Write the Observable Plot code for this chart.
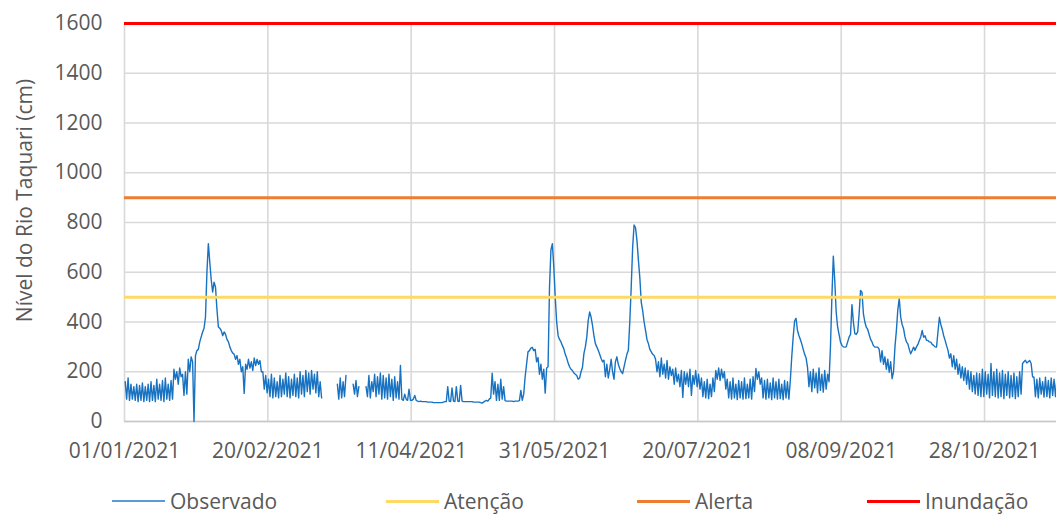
<!DOCTYPE html>
<html><head><meta charset="utf-8">
<script src="https://cdn.jsdelivr.net/npm/d3@7"></script>
<script src="https://cdn.jsdelivr.net/npm/@observablehq/plot@0.6"></script>
<style>
body{margin:0;background:#fff;font-family:"Open Sans",sans-serif;}
#wrap{position:relative;width:1056px;height:516px;overflow:hidden;}
#legend{position:absolute;left:0;top:486px;width:1056px;height:30px;font-size:21px;color:#595959;}
.item{position:absolute;top:0;height:30px;display:flex;align-items:center;white-space:nowrap;}
.sw{display:inline-block;width:53px;margin-right:5px;}
</style></head>
<body><div id="wrap"><div id="chart"></div><div id="legend"></div></div>
<script>
// Observed level (cm), two readings per day, one array per month (null = missing)
const jan = [160,90, 175,85, 150,90, 140,85, 150,80, 145,85, 155,80, 140,85, 150,80, 160,85,
  145,80, 170,90, 150,85, 165,80, 175,90, 150,85, 165,90, 210,170, 200,150, 215,180,
  190,105, 200,110, 250,200, 260,240, 0,265, 285,290, 320,340, 360,375, 420,600, 715,640,
  570,520];
const feb = [560,540, 450,380, 375,365, 345,360, 350,330, 320,300, 285,275, 270,250, 265,230, 250,200,
  220,113, 230,210, 250,215, 240,205, 255,225, 250,230, 245,200, 200,130, 185,115, 170,100,
  190,95, 175,100, 160,95, 185,100, 170,110, 195,100, 180,95, 170,105];
const mar = [190,100, 175,95, 200,110, 185,100, 205,120, 195,110, 205,130, 190,115, 200,100, 160,95,
  null,null, null,null, null,null, null,null, null,null, 150,90, 175,95, 160,100, 185,null, null,null,
  null,150, 110,165, 100,140, null,null, null,null, 140,100, 185,95, 160,120, 190,100, 180,110,
  195,90];
const apr = [185,95, 175,90, 190,100, 170,85, 180,95, 160,90, 225,90, 85,110, 90,85, 130,85,
  85,90, 105,85, 82,80, 82,80, 80,80, 80,78, 78,78, 78,76, 76,76, 76,76,
  76,76, 78,80, 80,140, 82,80, 135,82, 80,140, 82,80, 145,82, 80,80, 80,80];
const may = [80,80, 80,78, 78,78, 78,78, 76,74, 78,82, 85,82, 90,95, 194,110, 160,85,
  150,85, 170,90, 140,84, 82,82, 82,82, 82,80, 82,82, 82,84, 125,85, 110,180,
  230,280, 285,295, 298,285, 290,240, 257,190, 230,170, 210,114, 215,220, 540,690, 715,620,
  500,400];
const jun = [345,330, 320,305, 292,270, 255,235, 220,210, 205,195, 190,185, 170,175, 200,218, 273,300,
  339,406, 440,420, 386,345, 313,300, 286,270, 253,240, 246,180, 230,175, 210,250, 200,170,
  240,260, 230,213, 200,193, 220,246, 270,286, 400,540, 700,790, 780,728, 650,580, 480,446];
const jul = [400,366, 330,313, 290,280, 270,265, 250,200, 240,180, 255,190, 230,175, 245,170, 220,185,
  210,150, 215,160, 190,140, 205,97, 200,150, 195,140, 210,105, 185,150, 205,140, 190,130,
  175,100, 160,95, 170,92, 150,100, 175,120, 205,170, 215,165, 210,175, 200,130, 170,95,
  160,90];
const aug = [175,95, 150,88, 165,95, 160,90, 175,92, 150,95, 170,90, 180,120, 213,170, 200,150,
  175,95, 165,90, 170,95, 155,88, 175,95, 160,90, 170,92, 150,88, 165,95, 160,90,
  165,260, 339,405, 415,366, 346,330, 312,290, 270,255, 218,140, 200,120, 210,135, 195,115,
  215,125];
const sep = [190,118, 205,130, 190,160, 300,500, 665,567, 440,380, 350,320, 306,300, 299,300, 320,339,
  350,470, 400,353, 350,360, 433,527, 520,433, 400,379, 370,350, 330,320, 305,299, 299,299,
  290,240, 285,230, 260,210, 250,198, 240,172, 200,300, 366,450, 495,420, 390,373, 340,320];
const oct = [312,290, 272,285, 299,286, 300,310, 326,340, 366,339, 345,326, 326,320, 319,310, 306,300,
  299,360, 419,390, 370,345, 326,305, 286,255, 272,220, 265,210, 250,190, 230,175, 220,165,
  215,150, 205,130, 200,120, 185,111, 195,105, 192,100, 210,100, 200,110, 190,95, 233,105,
  200,100];
const nov = [210,95, 195,100, 205,92, 190,105, 200,95, 185,100, 195,92, 180,100, 200,110, 233,240,
  246,235, 240,245, 233,180, 178,100, 170,95, 175,110, 160,98, 178,100, 165,95, 175,105,
  170,100, 175,110];

// Reference levels
const levelNames = ["Atenção", "Alerta", "Inundação"];
const levelValues = [500, 900, 1600];

// Axis ticks
const yTicks = [0, 200, 400, 600, 800, 1000, 1200, 1400, 1600];
const xTickLabels = ["01/01/2021", "20/02/2021", "11/04/2021", "31/05/2021", "20/07/2021", "08/09/2021", "28/10/2021"];
const yTitle = "Nível do Rio Taquari (cm)";

// Styles
const obsColor = "#1872c2";
const levelColors = ["#ffd966", "#ed7d31", "#ff0000"];
const DAY = 864e5;

const months = [jan, feb, mar, apr, may, jun, jul, aug, sep, oct, nov];
const obs = [];
months.forEach((arr, m) => {
  const start = Date.UTC(2021, m, 1);
  arr.forEach((v, i) => obs.push({date: new Date(start + (i * 0.5 + 0.25) * DAY), level: v}));
});
const parse = d3.utcParse("%d/%m/%Y");
const xTicks = xTickLabels.map(parse);
const x0 = Date.UTC(2021, 0, 1);

const marks = [
  Plot.gridY(yTicks, {stroke: "#d9d9d9", strokeOpacity: 1, strokeWidth: 1.6}),
  Plot.gridX(xTicks, {stroke: "#d9d9d9", strokeOpacity: 1, strokeWidth: 1.6}),
  Plot.ruleY([0], {stroke: "#c8c8c8", strokeWidth: 1.6}),
  Plot.axisY(yTicks, {tickSize: 0, tickPadding: 22, label: null, tickFormat: d => String(d)}),
  Plot.axisX(xTicks, {tickSize: 0, tickPadding: 22, label: null, tickFormat: d3.utcFormat("%d/%m/%Y")}),
  Plot.line(obs, {x: "date", y: "level", stroke: obsColor, strokeWidth: 1.4})
];
levelValues.forEach((v, i) => marks.push(Plot.ruleY([v], {stroke: levelColors[i], strokeWidth: 3})));
marks.push(Plot.text([yTitle], {frameAnchor: "left", textAnchor: "middle", lineAnchor: "middle", dx: -99, dy: -22, rotate: -90, fill: "#595959", fontSize: 21}));

const chart = Plot.plot({
  width: 1056, height: 470,
  marginLeft: 124, marginRight: 0, marginTop: 23, marginBottom: 49,
  style: {fontFamily: "'Open Sans', sans-serif", fontSize: "21px", color: "#595959", background: "#fff", overflow: "visible"},
  x: {type: "utc", domain: [new Date(x0), new Date(x0 + 325.1 * DAY)]},
  y: {domain: [0, 1600]},
  marks
});
document.getElementById("chart").appendChild(chart);

// Legend
const legendItems = [
  {name: "Observado", color: "#5b9bd5", w: 2, left: 112},
  {name: levelNames[0], color: levelColors[0], w: 3, left: 386},
  {name: levelNames[1], color: levelColors[1], w: 3, left: 637},
  {name: levelNames[2], color: levelColors[2], w: 3, left: 867}
];
const lg = document.getElementById("legend");
legendItems.forEach(it => {
  const d = document.createElement("div");
  d.className = "item";
  d.style.left = it.left + "px";
  const s = document.createElement("span");
  s.className = "sw";
  s.style.height = it.w + "px";
  s.style.background = it.color;
  d.appendChild(s);
  d.appendChild(document.createTextNode(it.name));
  lg.appendChild(d);
});
</script></body></html>
